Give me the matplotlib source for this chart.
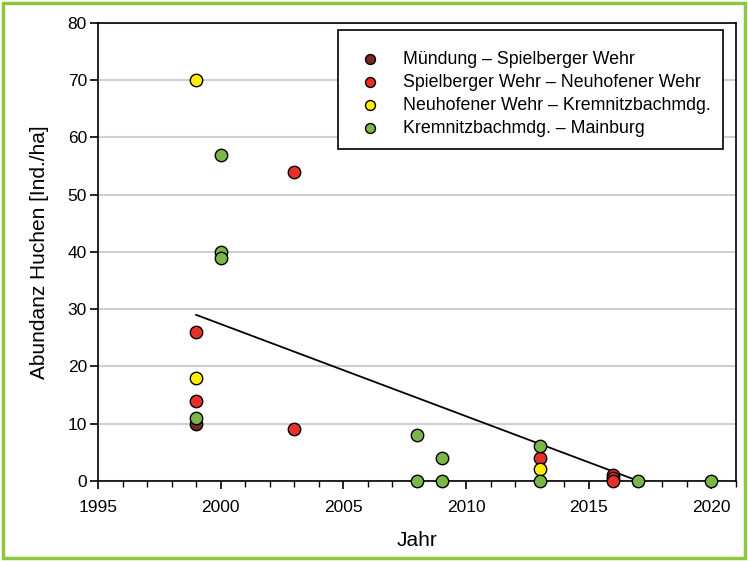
import matplotlib
matplotlib.use("Agg")
import matplotlib.pyplot as plt
from matplotlib.ticker import MultipleLocator

plt.rcParams['font.family'] = ['Liberation Sans', 'DejaVu Sans']

# Daten je Abschnitt (Jahr, Abundanz Ind./ha)
labels = ['Mündung – Spielberger Wehr',
          'Spielberger Wehr – Neuhofener Wehr',
          'Neuhofener Wehr – Kremnitzbachmdg.',
          'Kremnitzbachmdg. – Mainburg']
colors = ['#7b2a22', '#e8302a', '#ffee00', '#7ab648']

jahr_1 = [1999]
wert_1 = [10]
jahr_2 = [1999, 1999, 2003, 2003, 2013, 2016, 2016, 2016]
wert_2 = [26, 14, 54, 9, 4, 1, 0.5, 0]
jahr_3 = [1999, 1999, 2013]
wert_3 = [70, 18, 2]
jahr_4 = [1999, 2000, 2000, 2000, 2008, 2008, 2009, 2009, 2013, 2013, 2017, 2020]
wert_4 = [11, 57, 40, 39, 8, 0, 4, 0, 6, 0, 0, 0]

trend_jahr = [1999, 2017]
trend_wert = [29, 0]

jahre = [jahr_1, jahr_2, jahr_3, jahr_4]
werte = [wert_1, wert_2, wert_3, wert_4]

fig = plt.figure(figsize=(7.48, 5.61), dpi=100)
ax = fig.add_axes([0.131, 0.143, 0.853, 0.816])

ax.grid(axis='y', color='#d0d0d0', linewidth=1.5, zorder=0)
ax.plot(trend_jahr, trend_wert, color='black', linewidth=1.3, zorder=2)
for i in range(4):
    ax.scatter(jahre[i], werte[i], s=80, color=colors[i], edgecolor='black',
               linewidth=1, label=labels[i], zorder=3, clip_on=False)

ax.set_xlim(1995, 2021)
ax.set_ylim(0, 80)
ax.xaxis.set_major_locator(MultipleLocator(5))
ax.xaxis.set_minor_locator(MultipleLocator(1))
ax.yaxis.set_major_locator(MultipleLocator(10))
ax.tick_params(axis='both', which='major', labelsize=12.5, length=6, width=1.2, direction='out')
ax.tick_params(axis='x', which='major', pad=7.5)
ax.tick_params(axis='y', which='major', pad=2)
ax.tick_params(axis='x', which='minor', length=4, width=1, direction='out')
for s in ax.spines.values():
    s.set_linewidth(1.2)

ax.set_xlabel('Jahr', fontsize=15, labelpad=12)
ax.set_ylabel('Abundanz Huchen [Ind./ha]', fontsize=15, labelpad=13)

# Legendenrahmen separat, damit das Innenmass wie im Original passt
rahmen = plt.Rectangle((0.376, 0.725), 0.604, 0.26, transform=ax.transAxes,
                       facecolor='white', edgecolor='black', linewidth=1.2, zorder=4)
ax.add_patch(rahmen)
leg = ax.legend(loc='upper left', bbox_to_anchor=(0.398, 0.939), fontsize=12.8,
                frameon=False, borderpad=0, borderaxespad=0,
                labelspacing=0.33, handletextpad=0.87, markerscale=0.8)
leg.set_zorder(5)

fig.patches.append(plt.Rectangle((0.004, 0.005), 0.992, 0.99, transform=fig.transFigure,
                                 fill=False, edgecolor='#8dc63f', linewidth=2.5))

plt.savefig('out.png', dpi=100)
